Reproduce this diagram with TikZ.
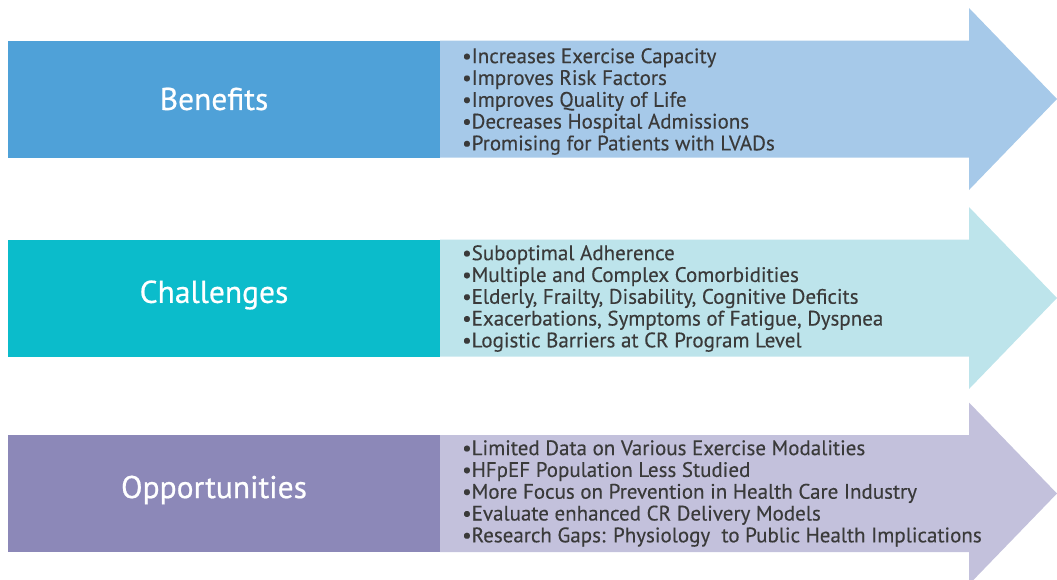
\documentclass[tikz,border=0pt]{standalone}
\usepackage{fontspec}
\setmainfont[FakeBold=0.25]{PT Sans}
\newfontfamily\labfont[FakeBold=0.6]{PT Sans}
\definecolor{bdark}{HTML}{4FA1D8}
\definecolor{blight}{HTML}{A6C9E9}
\definecolor{tdark}{HTML}{0BBCCB}
\definecolor{tlight}{HTML}{BDE4EB}
\definecolor{pdark}{HTML}{8C88B8}
\definecolor{plight}{HTML}{C3C1DC}
\definecolor{txt}{HTML}{3A3A3A}
\begin{document}
\begin{tikzpicture}[x=1pt,y=-1pt,
  label/.style={text=white,font=\labfont\fontsize{31.5}{34}\selectfont,inner sep=0pt},
  items/.style={text=txt,align=left,anchor=west,inner sep=0pt,font=\fontsize{21}{21.8}\selectfont},
]
\useasboundingbox (0,0) rectangle (1057,579);
\foreach \c/\dk/\lt in {99/bdark/blight, 298/tdark/tlight, 493.5/pdark/plight}{
  \fill[\lt] (440,\c-58.5) -- (969,\c-58.5) -- (969,\c-91) -- (1057,\c) -- (969,\c+91) -- (969,\c+58.5) -- (440,\c+58.5) -- cycle;
  \fill[\dk] (8,\c-58.5) rectangle (440,\c+58.5);
}
\node[label] (b) at (214,99) {Benefits};
\node[label] (c) at (214,295) {Challenges};
\node[label] (o) at (214,490) {Opportunities};
\node[items] (bl) at (462,101.5) {•Increases Exercise Capacity\\•Improves Risk Factors\\•Improves Quality of Life\\•Decreases Hospital Admissions\\•Promising for Patients with LVADs};
\node[items] (cl) at (462,298.5) {•Suboptimal Adherence\\•Multiple and Complex Comorbidities\\•Elderly, Frailty, Disability, Cognitive Deficits\\•Exacerbations, Symptoms of Fatigue, Dyspnea\\•Logistic Barriers at CR Program Level};
\node[items] (ol) at (462,493.5) {•Limited Data on Various Exercise Modalities\\•HFpEF Population Less Studied\\•More Focus on Prevention in Health Care Industry\\•Evaluate enhanced CR Delivery Models\\•Research Gaps: Physiology\ \ to Public Health Implications};
\end{tikzpicture}
\end{document}
